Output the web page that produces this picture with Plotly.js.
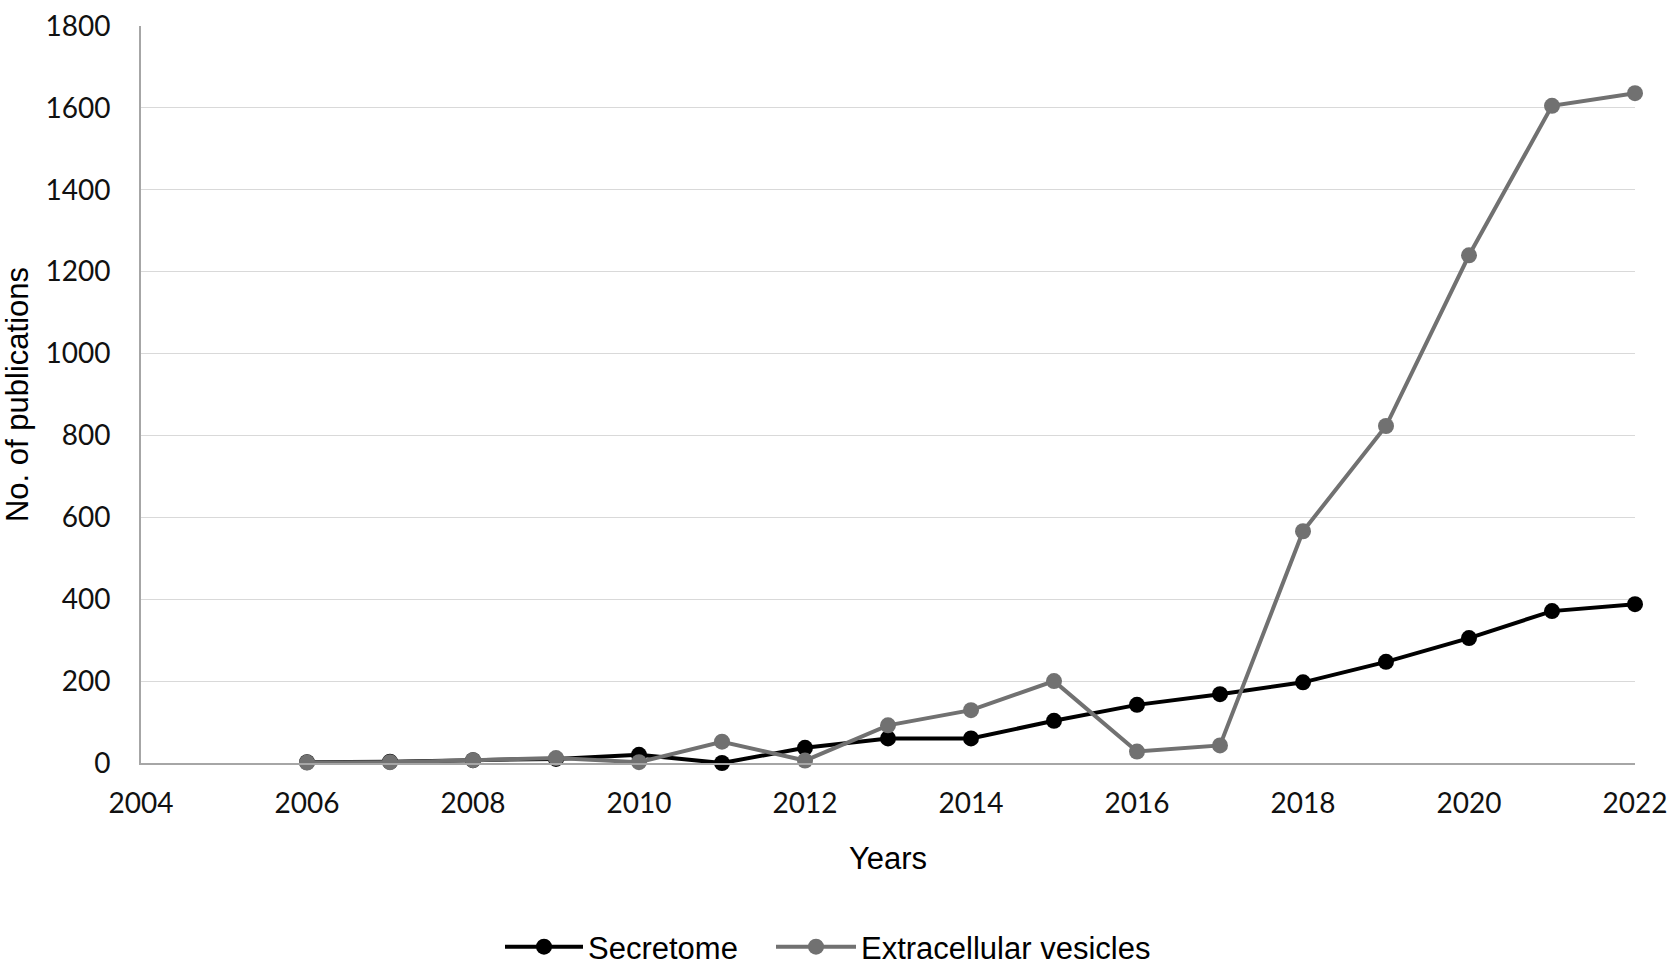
<!DOCTYPE html>
<html>
<head>
<meta charset="utf-8">
<script src="https://cdn.plot.ly/plotly-3.0.1.min.js"></script>
<style>html,body{margin:0;padding:0;background:#fff;}#chart{width:1675px;height:973px;}</style>
</head>
<body>
<div id="chart"></div>
<script>
const years = [2006, 2007, 2008, 2009, 2010, 2011, 2012, 2013, 2014, 2015, 2016, 2017, 2018, 2019, 2020, 2021, 2022];
const secretome = [2, 3, 7, 10, 20, 0, 37, 60, 60, 103, 142, 168, 197, 247, 305, 371, 388];
const extracellularVesicles = [1, 2, 7, 12, 2, 52, 6, 92, 129, 200, 28, 43, 566, 823, 1240, 1605, 1636];
const xTicks = [2004, 2006, 2008, 2010, 2012, 2014, 2016, 2018, 2020, 2022];
const yTicks = [0, 200, 400, 600, 800, 1000, 1200, 1400, 1600, 1800];

const traces = [
  {
    x: years, y: secretome, name: 'Secretome', type: 'scatter', mode: 'lines+markers',
    line: {color: '#000000', width: 4},
    marker: {color: '#000000', size: 16},
    cliponaxis: false, legend: 'legend'
  },
  {
    x: years, y: extracellularVesicles, name: 'Extracellular vesicles', type: 'scatter', mode: 'lines+markers',
    line: {color: '#717171', width: 4},
    marker: {color: '#717171', size: 16},
    cliponaxis: false, legend: 'legend2'
  }
];

const legendFont = {family: 'Liberation Sans, Arial, sans-serif', size: 31, color: '#000000'};

const layout = {
  width: 1675, height: 973,
  margin: {l: 141, r: 40, t: 26, b: 210},
  paper_bgcolor: '#ffffff', plot_bgcolor: '#ffffff',
  showlegend: true,
  xaxis: {
    range: [2004, 2022], tickvals: xTicks, ticktext: xTicks.map(String),
    showgrid: false, zeroline: false,
    showline: true, linecolor: '#a6a6a6', linewidth: 2,
    ticks: '', ticklabelstandoff: 14,
    tickfont: {family: 'Lato, sans-serif', size: 28, color: '#111111'},
    title: {text: 'Years', font: {family: 'Liberation Sans, Arial, sans-serif', size: 31, color: '#000000'}, standoff: 30},
    automargin: false
  },
  yaxis: {
    range: [0, 1800], tickvals: yTicks, ticktext: yTicks.map(String),
    showgrid: true, gridcolor: '#d9d9d9', gridwidth: 1,
    zeroline: false,
    showline: true, linecolor: '#a6a6a6', linewidth: 2,
    ticks: '', ticklabelstandoff: 23,
    tickfont: {family: 'Lato, sans-serif', size: 28, color: '#111111'},
    title: {text: 'No. of publications', font: {family: 'Liberation Sans, Arial, sans-serif', size: 31, color: '#000000'}, standoff: 8},
    automargin: false
  },
  legend: {
    orientation: 'h', xref: 'container', yref: 'container',
    x: 500 / 1675, xanchor: 'left', y: 1 - 947 / 973, yanchor: 'middle',
    font: legendFont, bgcolor: 'rgba(0,0,0,0)', itemwidth: 78
  },
  legend2: {
    orientation: 'h', xref: 'container', yref: 'container',
    x: 771 / 1675, xanchor: 'left', y: 1 - 947 / 973, yanchor: 'middle',
    font: legendFont, bgcolor: 'rgba(0,0,0,0)', itemwidth: 80
  }
};

Plotly.newPlot('chart', traces, layout, {displayModeBar: false, staticPlot: true});
</script>
</body>
</html>
